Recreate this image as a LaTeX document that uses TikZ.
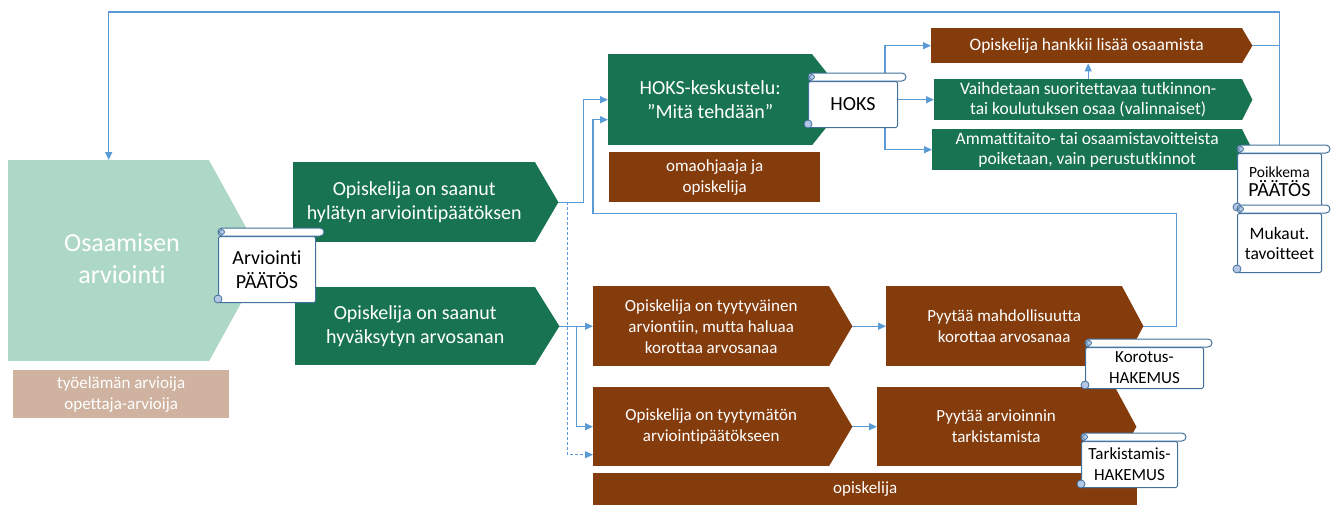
\documentclass[tikz,border=0pt]{standalone}
\usepackage{fontspec}
\setmainfont{Carlito}[Ligatures=NoCommon]
\usetikzlibrary{arrows.meta, calc, backgrounds}
\definecolor{mint}{HTML}{AED8C6}
\definecolor{evGreen}{HTML}{187450}
\definecolor{rust}{HTML}{843C0C}
\definecolor{sandBox}{HTML}{CFB3A0}
\definecolor{linkBlue}{HTML}{5B9BD5}
\definecolor{scrollB}{HTML}{41719C}
\definecolor{curlFill}{HTML}{B4C7E7}
% pointed right end of a block
\newcommand{\chevtip}[3]{\fill[#3] ($(#1.north east)+(-0.5,0)$) -- ($(#1.east)+(#2,0)$) coordinate (#1-tip) -- ($(#1.south east)+(-0.5,0)$) -- cycle;}
% roll and curls of a scroll
\newcommand{\scrollroll}[1]{%
  \draw[scrollB, line width=1pt, fill=white, rounded corners=4pt] ($(#1.north west)+(0,-8)$) rectangle ($(#1.north east)+(8,0)$);
  \draw[scrollB, line width=0.8pt, fill=curlFill] ($(#1.north west)+(4,-4)$) circle (2.5);
  \draw[scrollB, line width=0.8pt, fill=curlFill] ($(#1.south west)+(0,-4)$) circle (4);}

\begin{document}
\begin{tikzpicture}[x=1pt, y=-1pt,
  blk/.style={anchor=north west, inner sep=0pt, align=center, text=white},
  grn/.style={blk, fill=evGreen}, brn/.style={blk, fill=rust},
  scrl/.style={anchor=north west, inner sep=0pt, align=center, text=black, draw=scrollB, line width=1pt, fill=white, rounded corners=1.5pt},
  link/.style={draw=linkBlue, line width=1.3pt},
  arr/.style={link, -{Triangle[length=8pt, width=7pt]}},
  fBig/.style={font=\fontsize{26}{32}\selectfont},
  fMid/.style={font=\fontsize{20}{24}\selectfont},
  fSm/.style={font=\fontsize{17}{21}\selectfont},
  fXs/.style={font=\fontsize{17.5}{20}\selectfont}]
\useasboundingbox (0,0) rectangle (1336,504);

% left: assessment
\node[blk, fill=mint, minimum width=201pt, minimum height=201pt] (osa) at (8,160) {};
\chevtip{osa}{55}{mint}
\node[fBig, text=white, align=center] (osaTxt) at (122,259) {Osaamisen\\arviointi};
\node[blk, fill=sandBox, fSm, minimum width=216pt, minimum height=48pt] (arvio) at (13,370) {työelämän arvioija\\opettaja-arvioija};

% decisions
\node[grn, fMid, minimum width=242pt, minimum height=80pt] (hyl) at (293,162) {Opiskelija on saanut\\hylätyn arviointipäätöksen};
\chevtip{hyl}{23}{evGreen}
\node[grn, fMid, minimum width=240pt, minimum height=78pt] (hyv) at (295,287) {Opiskelija on saanut\\hyväksytyn arvosanan};
\chevtip{hyv}{24}{evGreen}

% HOKS branch
\node[grn, fMid, minimum width=204pt, minimum height=91pt] (hoksK) at (608,54) {HOKS-keskustelu:\\”Mitä tehdään”};
\chevtip{hoksK}{36}{evGreen}
\node[brn, fSm, minimum width=211pt, minimum height=50pt] (omao) at (609,152) {omaohjaaja ja\\opiskelija};
\node[brn, fXs, minimum width=311pt, minimum height=35pt] (hank) at (931,28) {Opiskelija hankkii lisää osaamista};
\chevtip{hank}{10}{rust}
\node[grn, fXs, minimum width=308pt, minimum height=41pt] (vaih) at (934,79) {Vaihdetaan suoritettavaa tutkinnon-\\tai koulutuksen osaa (valinnaiset)};
\chevtip{vaih}{10}{evGreen}
\node[grn, fXs, minimum width=310pt, minimum height=41pt] (ammat) at (932,129) {Ammattitaito- tai osaamistavoitteista\\poiketaan, vain perustutkinnot};
\chevtip{ammat}{10}{evGreen}

% grade branch
\node[brn, fSm, minimum width=236pt, minimum height=80pt] (tyyv) at (593,286) {Opiskelija on tyytyväinen\\arviontiin, mutta haluaa\\korottaa arvosanaa};
\chevtip{tyyv}{23}{rust}
\node[brn, fSm, minimum width=236pt, minimum height=80pt] (pyyM) at (886,286) {Pyytää mahdollisuutta\\korottaa arvosanaa};
\chevtip{pyyM}{21}{rust}
\node[brn, fSm, minimum width=236pt, minimum height=79pt] (tyym) at (593,387) {Opiskelija on tyytymätön\\arviointipäätökseen};
\chevtip{tyym}{23}{rust}
\node[brn, fSm, minimum width=238pt, minimum height=79pt] (pyyA) at (877,387) {Pyytää arvioinnin\\tarkistamista};
\chevtip{pyyA}{21}{rust}
\node[brn, fSm, minimum width=544pt, minimum height=32pt] (opisk) at (593,473) {opiskelija};

% scrolls
\node[scrl, fMid, minimum width=97pt, minimum height=66pt] (arvP) at (218,236) {Arviointi\\PÄÄTÖS};
\scrollroll{arvP}
\node[scrl, fMid, minimum width=89pt, minimum height=46pt] (hoksS) at (808,81) {HOKS};
\scrollroll{hoksS}
\node[scrl, minimum width=84pt, minimum height=57pt] (poikS) at (1237,153) {\fontsize{15.5}{18}\selectfont Poikkema\\[2pt]\fontsize{20}{22}\selectfont PÄÄTÖS};
\scrollroll{poikS}
\node[scrl, fXs, minimum width=84pt, minimum height=59pt] (mukS) at (1237,213) {Mukaut.\\tavoitteet};
\scrollroll{mukS}
\node[scrl, fSm, minimum width=118pt, minimum height=41pt] (korS) at (1085,347) {Korotus-\\HAKEMUS};
\scrollroll{korS}
\node[scrl, fSm, minimum width=96pt, minimum height=46pt] (tarS) at (1081,441) {Tarkistamis-\\HAKEMUS};
\scrollroll{tarS}

% connectors
\begin{scope}[on background layer]
\draw[arr] ($(poikS.north)+(0,-8)$) -- ++(0,-133) -| (osa.north);
\draw[link] (hank-tip) -| ($(poikS.north)+(0,-8)$);
\draw[arr] (hyl-tip) -- ++(25,0) |- (hoksK.west);
\draw[arr] (pyyM-tip) -- ++(33,0) -- ++(0,-113) -| ($(hoksK.west)+(-15,20)$) -- ($(hoksK.west)+(0,20)$);
\draw[arr, dash pattern=on 3pt off 2pt, line width=1pt] ($(hyl-tip)+(9,0)$) |- ($(tyym.west)+(0,28)$);
\draw[arr] (hyv-tip) -- (tyyv.west);
\draw[arr] ($(hyv-tip)+(17,0)$) |- (tyym.west);
\draw[arr] (tyyv-tip) -- (pyyM.west);
\draw[arr] (tyym-tip) -- (pyyA.west);
\coordinate (hoksFan) at ($(hoksS.east |- vaih.west)+(-13,0)$);
\draw[arr] (hoksS.east |- vaih.west) -- (vaih.west);
\draw[arr] (hoksFan) |- (hank.west);
\draw[arr] (hoksFan) |- (ammat.west);
\draw[arr] (vaih.north) -- (vaih.north |- hank.south);
\end{scope}
\end{tikzpicture}
\end{document}
